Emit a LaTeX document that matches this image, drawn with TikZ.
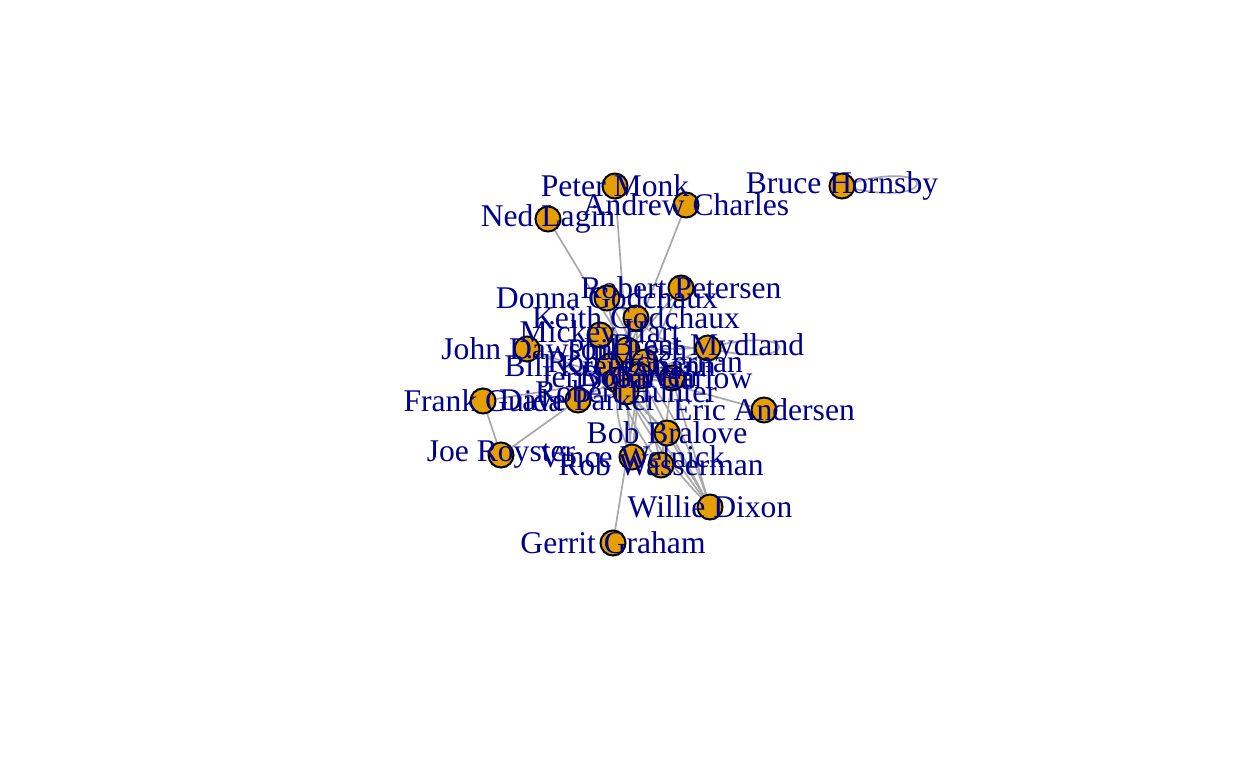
\documentclass[tikz,border=0pt]{standalone}
\usepackage{fontspec}
\setmainfont{Liberation Serif}
\definecolor{vfill}{HTML}{E69F00}
\definecolor{lblue}{HTML}{00008B}
\definecolor{egray}{HTML}{A8A8A8}
\tikzset{
  edge/.style={draw=egray, line width=1.7pt},
  vert/.style={circle, draw=black, fill=vfill, line width=2pt, minimum size=25pt, inner sep=0pt},
  lbl/.style={text=lblue, inner sep=0pt, font=\fontsize{31.6}{34}\selectfont, anchor=center}
}
\begin{document}
\begin{tikzpicture}[x=1pt, y=-1pt]
\fill[white] (0,0) rectangle (1248,768);
\useasboundingbox (0,0) rectangle (1248,768);
% coordinates
\coordinate (pm) at (615,186);
\coordinate (ac) at (686,205);
\coordinate (bh) at (842,186);
\coordinate (nl) at (548,219);
\coordinate (rp) at (681,288);
\coordinate (dg) at (607,298);
\coordinate (kg) at (636,318);
\coordinate (mh) at (600,335);
\coordinate (jd) at (527,349);
\coordinate (bm) at (708,348);
\coordinate (pl) at (627,350);
\coordinate (rm) at (645,362);
\coordinate (bk) at (610,366);
\coordinate (jg) at (617,380);
\coordinate (bw) at (640,376);
\coordinate (jb) at (672,378);
\coordinate (rh) at (626,392);
\coordinate (fg) at (483,401);
\coordinate (dp) at (578,400);
\coordinate (ea) at (764,410);
\coordinate (bb) at (667,433);
\coordinate (jr) at (501,455);
\coordinate (vw) at (632,457);
\coordinate (rw) at (661,465);
\coordinate (wd) at (710,507);
\coordinate (gg) at (613,543);
% edges
\draw[edge] (nl) -- (pl);
\draw[edge] (pm) -- (pl);
\draw[edge] (ac) -- (jg);
\draw[edge] (fg) -- (jr);
\draw[edge] (fg) -- (jg);
\draw[edge] (jr) -- (dp);
\draw[edge] (dp) -- (rh);
\draw[edge] (dp) -- (jg);
\draw[edge] (jd) -- (jg);
\draw[edge] (jd) -- (rh);
\draw[edge] (rp) -- (pl);
\draw[edge] (rp) -- (bw);
\draw[edge] (dg) -- (kg);
\draw[edge] (dg) -- (rh);
\draw[edge] (dg) to[bend left=10] (bw);
\draw[edge] (kg) -- (jg);
\draw[edge] (kg) to[bend left=12] (rh);
\draw[edge] (kg) to[bend right=25] (bm);
\draw[edge] (mh) -- (rh);
\draw[edge] (mh) -- (bk);
\draw[edge] (mh) -- (jb);
\draw[edge] (pl) -- (rh);
\draw[edge] (pl) -- (bm);
\draw[edge] (bk) -- (rm);
\draw[edge] (bk) -- (jb);
\draw[edge] (jg) -- (rh);
\draw[edge] (jg) to[bend left=20] (rh);
\draw[edge] (bw) -- (jb);
\draw[edge] (bw) to[bend right=20] (jb);
\draw[edge] (rm) -- (jg);
\draw[edge] (bm) -- (jb);
\draw[edge] (bm) -- (bw);
\draw[edge] (ea) -- (bw);
\draw[edge] (bb) -- (vw);
\draw[edge] (bb) -- (rh);
\draw[edge] (bb) -- (jg);
\draw[edge] (vw) -- (rh);
\draw[edge] (vw) to[bend left=15] (jg);
\draw[edge] (vw) -- (bw);
\draw[edge] (rw) -- (bw);
\draw[edge] (rw) -- (jb);
\draw[edge] (rw) to[bend left=10] (jg);
\draw[edge] (gg) -- (bw);
\draw[edge] (wd) -- (jg);
\draw[edge] (wd) -- (bw);
\draw[edge] (wd) to[bend left=8] (rh);
\draw[edge] (wd) -- (jb);
\draw[edge] (wd) to[bend right=10] (pl);
\draw[edge] (wd) -- (bb);
\draw[edge] (bh) .. controls +(100,-32) and +(100,26) .. (bh);
\draw[edge] (bm) .. controls +(95,-26) and +(95,24) .. (bm);
% vertices
\foreach \n in {pm,ac,bh,nl,rp,dg,kg,mh,jd,bm,pl,rm,bk,jg,bw,jb,rh,fg,dp,ea,bb,jr,vw,rw,wd,gg}
  \node[vert] (\n-v) at (\n) {};
% labels
\node[lbl] (pm-l) at (pm) {Peter Monk};
\node[lbl] (ac-l) at (ac) {Andrew Charles};
\node[lbl] (bh-l) at (bh) {Bruce Hornsby};
\node[lbl] (nl-l) at (nl) {Ned Lagin};
\node[lbl] (rp-l) at (rp) {Robert Petersen};
\node[lbl] (dg-l) at (dg) {Donna Godchaux};
\node[lbl] (kg-l) at (kg) {Keith Godchaux};
\node[lbl] (mh-l) at (mh) {Mickey Hart};
\node[lbl] (jd-l) at (jd) {John Dawson};
\node[lbl] (bm-l) at (bm) {Brent Mydland};
\node[lbl] (pl-l) at (pl) {Phil Lesh};
\node[lbl] (rm-l) at (rm) {Ron McKernan};
\node[lbl] (bk-l) at (bk) {Bill Kreutzmann};
\node[lbl] (jg-l) at (jg) {Jerry Garcia};
\node[lbl] (bw-l) at (bw) {Bob Weir};
\node[lbl] (jb-l) at (jb) {John Barlow};
\node[lbl] (rh-l) at (rh) {Robert Hunter};
\node[lbl] (fg-l) at (fg) {Frank Guida};
\node[lbl] (dp-l) at (dp) {Dave Parker};
\node[lbl] (ea-l) at (ea) {Eric Andersen};
\node[lbl] (bb-l) at (bb) {Bob Bralove};
\node[lbl] (jr-l) at (jr) {Joe Royster};
\node[lbl] (vw-l) at (vw) {Vince Welnick};
\node[lbl] (rw-l) at (rw) {Rob Wasserman};
\node[lbl] (wd-l) at (wd) {Willie Dixon};
\node[lbl] (gg-l) at (gg) {Gerrit Graham};
\end{tikzpicture}
\end{document}
